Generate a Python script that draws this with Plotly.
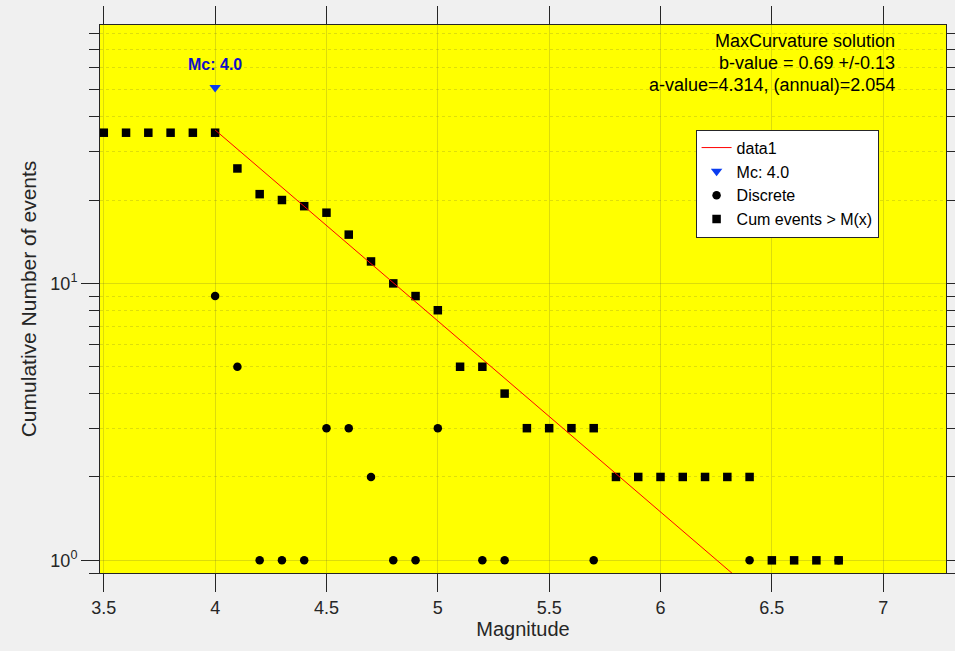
import plotly.graph_objects as go
import numpy as np

# ---------------- data ----------------
mag_bins = [3.5, 3.6, 3.7, 3.8, 3.9, 4.0, 4.1, 4.2, 4.3, 4.4, 4.5, 4.6, 4.7, 4.8, 4.9,
            5.0, 5.1, 5.2, 5.3, 5.4, 5.5, 5.6, 5.7, 5.8, 5.9, 6.0, 6.1, 6.2, 6.3, 6.4,
            6.5, 6.6, 6.7, 6.8]
cum_events = [35, 35, 35, 35, 35, 35, 26, 21, 20, 19, 18, 15, 12, 10, 9,
              8, 5, 5, 4, 3, 3, 3, 3, 2, 2, 2, 2, 2, 2, 2,
              1, 1, 1, 1]

disc_mag = [4.0, 4.1, 4.2, 4.3, 4.4, 4.5, 4.6, 4.7, 4.8, 4.9, 5.0, 5.2, 5.3, 5.7, 6.4, 6.8]
disc_n = [9, 5, 1, 1, 1, 3, 3, 2, 1, 1, 3, 1, 1, 1, 1, 1]

fit_mag = [4.0, 6.8]
fit_n = [35.8, 0.42]

mc_mag = [4.0]
mc_n = [51]

info_lines = ["MaxCurvature solution", "b-value = 0.69 +/-0.13", "a-value=4.314, (annual)=2.054"]

x_ticks = [3.5, 4, 4.5, 5, 5.5, 6, 6.5, 7]
x_ticktext = ["3.5", "4", "4.5", "5", "5.5", "6", "6.5", "7"]
y_ticks = [1, 10]
y_ticktext = ["10<sup>0</sup>", "10<sup>1</sup>"]
y_minor = [0.9, 2, 3, 4, 5, 6, 7, 8, 9, 20, 30, 40, 50, 60, 70, 80]

# ---------------- figure ----------------
FONT = "Liberation Sans, Arial, Helvetica, sans-serif"
DARK = "#262626"
GRID = "rgba(60,60,60,0.18)"

fig = go.Figure()

fig.add_trace(go.Scatter(
    x=mag_bins, y=cum_events, mode="markers", name="Cum events > M(x)",
    marker=dict(symbol="square", size=8.5, color="black"),
    cliponaxis=False, legendrank=4))

fig.add_trace(go.Scatter(
    x=disc_mag, y=disc_n, mode="markers", name="Discrete",
    marker=dict(symbol="circle", size=8.5, color="black"),
    cliponaxis=False, legendrank=3))

fig.add_trace(go.Scatter(
    x=fit_mag, y=fit_n, mode="lines", name="data1",
    line=dict(color="red", width=1), legendrank=1))

fig.add_trace(go.Scatter(
    x=mc_mag, y=mc_n, mode="markers", name="Mc: 4.0",
    marker=dict(symbol="triangle-down", size=10, color="#0a3cf0"),
    legendrank=2))

# Mc label above the triangle
fig.add_annotation(x=mc_mag[0], y=np.log10(mc_n[0]), xref="x", yref="y",
                   text="<b>Mc: 4.0</b>", showarrow=False, yshift=23,
                   font=dict(family=FONT, size=16, color="#1010c8"))

# info text top right
for i, t in enumerate(info_lines):
    fig.add_annotation(xref="paper", yref="paper", x=0.942, y=0.9705 - i * 0.0401,
                       text=t, showarrow=False, xanchor="right", yanchor="middle",
                       font=dict(family=FONT, size=18, color="black"))

fig.update_layout(
    width=955, height=651,
    margin=dict(l=100, r=9, t=25, b=78),
    paper_bgcolor="#f0f0f0",
    plot_bgcolor="#ffff00",
    font=dict(family=FONT, size=18, color=DARK),
    showlegend=True,
    legend=dict(x=0.704, y=0.809, xanchor="left", yanchor="top",
                bgcolor="white", bordercolor=DARK, borderwidth=1,
                font=dict(family=FONT, size=16, color="black"),
                tracegroupgap=0, itemwidth=30),
)

fig.update_xaxes(
    range=[3.483, 7.282], automargin=False,
    tickmode="array", tickvals=x_ticks, ticktext=x_ticktext,
    ticks="outside", ticklen=18, tickwidth=1, tickcolor=DARK,
    showline=True, linecolor=DARK, linewidth=1, mirror="ticks",
    showgrid=True, gridcolor=GRID, gridwidth=1,
    zeroline=False,
    tickfont=dict(family=FONT, size=18, color=DARK),
    title=dict(text="Magnitude", font=dict(family=FONT, size=20, color=DARK), standoff=4),
)

fig.update_yaxes(
    type="log", automargin=False,
    range=[np.log10(0.9), np.log10(85.7)],
    tickmode="array", tickvals=y_ticks, ticktext=y_ticktext,
    ticks="outside", ticklen=18, tickwidth=1, tickcolor=DARK,
    showline=True, linecolor=DARK, linewidth=1, mirror="ticks",
    showgrid=True, gridcolor=GRID, gridwidth=1,
    zeroline=False,
    minor=dict(tickmode="array", tickvals=y_minor, ticks="outside", ticklen=10,
               tickcolor=DARK, showgrid=True, gridcolor="rgba(60,60,60,0.17)",
               griddash="dot", gridwidth=1),
    tickfont=dict(family=FONT, size=18, color=DARK),
    title=dict(text="Cumulative Number of events", font=dict(family=FONT, size=21, color=DARK),
               standoff=8),
)

fig.write_html("out.html",
               config={"displayModeBar": False},
               post_script="document.body.style.margin='0';document.body.style.overflow='hidden';")
